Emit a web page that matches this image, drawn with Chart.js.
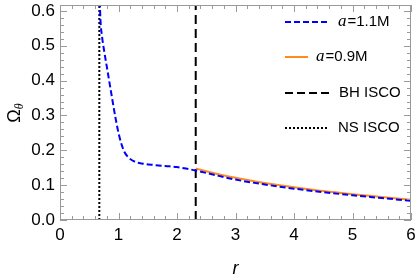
<!DOCTYPE html>
<html>
<head>
<meta charset="utf-8">
<script src="https://cdn.jsdelivr.net/npm/chart.js@4.4.0/dist/chart.umd.min.js"></script>
<style>
  html, body { margin: 0; padding: 0; background: #fff; }
  #wrap { width: 415px; height: 280px; }
</style>
</head>
<body>
<div id="wrap"><canvas id="omegaChart" width="415" height="280"></canvas></div>
<script>
'use strict';

// Curve data
const rBlue = [0.672, 0.69, 0.72, 0.76, 0.80, 0.85, 0.90, 0.95, 1.00, 1.05, 1.10, 1.15, 1.20, 1.30, 1.40, 1.60, 1.80, 2.00, 2.20, 2.32, 2.50, 3.00, 3.50, 4.00, 4.50, 5.00, 5.50, 6.00];
const omegaBlue = [0.68, 0.58, 0.525, 0.48, 0.44, 0.39, 0.34, 0.292, 0.25, 0.218, 0.196, 0.183, 0.175, 0.166, 0.162, 0.158, 0.155, 0.152, 0.146, 0.142, 0.135, 0.116, 0.102, 0.090, 0.080, 0.071, 0.063, 0.055];
const rOrange = [2.32, 2.50, 3.00, 3.50, 4.00, 4.50, 5.00, 5.50, 6.00];
const omegaOrange = [0.148, 0.140, 0.121, 0.106, 0.094, 0.083, 0.074, 0.066, 0.058];

const bhIsco = 2.32;
const nsIsco = 0.672;

const xTicks = [0, 1, 2, 3, 4, 5, 6];
const yTicks = [0.0, 0.1, 0.2, 0.3, 0.4, 0.5, 0.6];

const legendLabels = [
    { italic: 'a', rest: '=1.1M' },
    { italic: 'a', rest: '=0.9M' },
    { italic: '', rest: 'BH ISCO' },
    { italic: '', rest: 'NS ISCO' }
];

const toPoints = (xs, ys) => xs.map((x, i) => ({ x: x, y: ys[i] }));

const FRAME = '#9a9a9a';

// frame, inside ticks on all four sides, legend, y title
const decorPlugin = {
    id: 'decor',
    afterDraw(chart) {
        const ctx = chart.ctx;
        const a = chart.chartArea;
        const xs = chart.scales.x, ys = chart.scales.y;
        ctx.save();
        ctx.strokeStyle = FRAME;
        ctx.lineWidth = 1;
        ctx.strokeRect(a.left + 0.5, a.top + 0.5, a.right - a.left - 1, a.bottom - a.top - 1);
        ctx.beginPath();
        for (let i = 0; i <= 30; i++) {
            const v = i * 0.2;
            const px = Math.round(xs.getPixelForValue(v)) + 0.5;
            const len = (i % 5 === 0) ? 7 : 4;
            ctx.moveTo(px, a.bottom); ctx.lineTo(px, a.bottom - len);
            ctx.moveTo(px, a.top); ctx.lineTo(px, a.top + len);
        }
        for (let i = 0; i <= 30; i++) {
            const v = i * 0.02;
            const py = Math.round(ys.getPixelForValue(v)) + 0.5;
            const len = (i % 5 === 0) ? 7 : 4;
            ctx.moveTo(a.left, py); ctx.lineTo(a.left + len, py);
            ctx.moveTo(a.right, py); ctx.lineTo(a.right - len, py);
        }
        ctx.stroke();

        // legend
        const rows = [22, 57, 93, 128];
        const samples = [
            { color: '#0000ff', dash: [6, 3], end: 329, textX: 338 },
            { color: '#ff8c1a', dash: [], end: 308, textX: 316 },
            { color: '#000000', dash: [8, 4], end: 330, textX: 339 },
            { color: '#000000', dash: [2, 2], end: 329, textX: 338 }
        ];
        ctx.textBaseline = 'middle';
        ctx.textAlign = 'left';
        legendLabels.forEach((lab, i) => {
            const s = samples[i];
            const y = rows[i];
            ctx.beginPath();
            ctx.strokeStyle = s.color;
            ctx.lineWidth = 2;
            ctx.setLineDash(s.dash);
            ctx.moveTo(285, y);
            ctx.lineTo(s.end, y);
            ctx.stroke();
            ctx.setLineDash([]);
            ctx.fillStyle = '#000';
            let tx = s.textX;
            if (lab.italic) {
                ctx.font = 'italic 17px "Liberation Serif"';
                ctx.fillText(lab.italic, tx, y);
                tx += ctx.measureText(lab.italic).width + 1;
            }
            ctx.font = '15px "Liberation Sans"';
            ctx.fillText(lab.rest, tx, y);
        });

        // y axis title: Omega with theta subscript
        ctx.translate(14, 113);
        ctx.rotate(-Math.PI / 2);
        ctx.fillStyle = '#000';
        ctx.textBaseline = 'alphabetic';
        ctx.font = '18px "Liberation Sans"';
        const w1 = ctx.measureText('Ω').width;
        ctx.font = 'italic 12px "Liberation Serif"';
        const w2 = ctx.measureText('θ').width;
        let sx = -(w1 + w2) / 2;
        ctx.font = '18px "Liberation Sans"';
        ctx.fillText('Ω', sx, 6);
        ctx.font = 'italic 12px "Liberation Serif"';
        ctx.fillText('θ', sx + w1, 9);
        ctx.restore();
    }
};

function chartInit() {
    const ctx = document.getElementById('omegaChart').getContext('2d');
    return new Chart(ctx, {
        type: 'scatter',
        data: {
            datasets: [
                {
                    label: 'a=1.1M',
                    data: toPoints(rBlue, omegaBlue),
                    showLine: true,
                    borderColor: '#0000ff',
                    borderWidth: 2,
                    borderDash: [6, 3],
                    pointRadius: 0,
                    cubicInterpolationMode: 'monotone'
                },
                {
                    label: 'a=0.9M',
                    data: toPoints(rOrange, omegaOrange),
                    showLine: true,
                    borderColor: '#ff8c1a',
                    borderWidth: 2,
                    pointRadius: 0,
                    cubicInterpolationMode: 'monotone'
                },
                {
                    label: 'BH ISCO',
                    data: [{ x: bhIsco, y: 0 }, { x: bhIsco, y: 0.7 }],
                    showLine: true,
                    borderColor: '#000000',
                    borderWidth: 2,
                    borderDash: [9, 5],
                    pointRadius: 0
                },
                {
                    label: 'NS ISCO',
                    data: [{ x: nsIsco, y: 0 }, { x: nsIsco, y: 0.7 }],
                    showLine: true,
                    borderColor: '#000000',
                    borderWidth: 2,
                    borderDash: [2, 2],
                    pointRadius: 0
                }
            ]
        },
        options: {
            responsive: false,
            animation: false,
            layout: { padding: { left: 0, right: 4, top: 5, bottom: 0 } },
            plugins: {
                legend: { display: false },
                tooltip: { enabled: false }
            },
            scales: {
                x: {
                    type: 'linear',
                    min: 0,
                    max: 6,
                    afterBuildTicks: s => { s.ticks = xTicks.map(v => ({ value: v })); },
                    afterFit: s => { s.height = 60; s.paddingLeft = 0; s.paddingRight = 0; },
                    grid: { display: false, drawTicks: false },
                    border: { display: false },
                    ticks: {
                        padding: 5,
                        color: '#000',
                        font: { family: '"Liberation Sans"', size: 17 },
                        maxRotation: 0,
                        callback: v => String(v)
                    },
                    title: {
                        display: true,
                        text: 'r',
                        color: '#000',
                        font: { family: '"Liberation Sans"', size: 18, style: 'italic' },
                        padding: { top: 8, bottom: 0 }
                    }
                },
                y: {
                    type: 'linear',
                    min: 0,
                    max: 0.617,
                    afterBuildTicks: s => { s.ticks = yTicks.map(v => ({ value: v })); },
                    afterFit: s => { s.width = 60; s.paddingTop = 0; s.paddingBottom = 0; },
                    grid: { display: false, drawTicks: false },
                    border: { display: false },
                    ticks: {
                        padding: 5,
                        color: '#000',
                        font: { family: '"Liberation Sans"', size: 17 },
                        callback: v => v.toFixed(1)
                    }
                }
            }
        },
        plugins: [decorPlugin]
    });
}

chartInit();
</script>
</body>
</html>
